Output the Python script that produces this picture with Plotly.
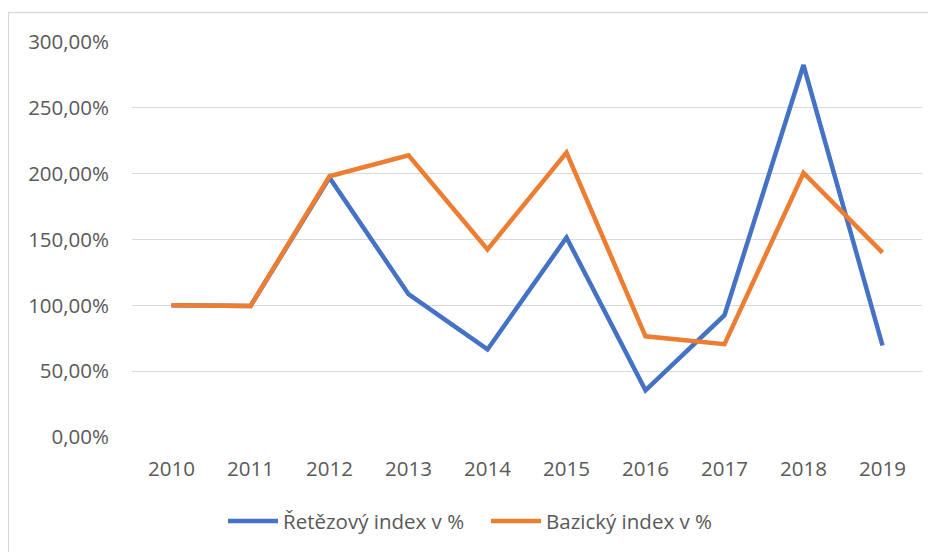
import plotly.graph_objects as go

years = ["2010", "2011", "2012", "2013", "2014", "2015", "2016", "2017", "2018", "2019"]
retezovy = [100.0, 99.5, 197.0, 108.5, 66.5, 151.5, 35.5, 92.5, 282.5, 69.5]
bazicky = [100.0, 99.5, 198.0, 214.0, 142.5, 216.0, 76.5, 70.5, 200.5, 140.0]
y_ticks = [0, 50, 100, 150, 200, 250, 300]
y_ticktext = ["0,00%", "50,00%", "100,00%", "150,00%", "200,00%", "250,00%", "300,00%"]
series_names = ["Řetězový index v %", "Bazický index v %"]
series_colors = ["#4472C4", "#ED7D31"]

FONT = "Open Sans"
TXT = "#595959"
FS = 20.5

fig = go.Figure()
for vals, name, col in zip([retezovy, bazicky], series_names, series_colors):
    fig.add_trace(go.Scatter(x=years, y=vals, mode="lines", name=name,
                             line=dict(color=col, width=4.5), showlegend=False))

# page body has an 8px margin, so the figure is drawn 8px right/down of the window origin
OFF = 8
W, H = 936 - OFF, 552 - OFF
L, T = 132 - OFF, 42 - OFF
R = W - (922 - OFF)
B = H - (437 - OFF)
pw, ph = W - L - R, H - T - B

def px(x):  # reference window x -> paper
    return (x - OFF - L) / pw

def py(y):  # reference window y -> paper
    return (T + ph - (y - OFF)) / ph

shapes = [dict(type="rect", xref="paper", yref="paper",
               x0=px(8.5), x1=px(960), y0=py(580), y1=py(12.5),
               line=dict(color="#d9d9d9", width=1.3), fillcolor="rgba(0,0,0,0)",
               layer="below")]
annotations = []
leg_y = 521
leg_items = [(228, 283), (491, 546)]
for (lx, tx), name, col in zip(leg_items, series_names, series_colors):
    shapes.append(dict(type="line", xref="paper", yref="paper",
                       x0=px(lx), x1=px(lx + 50), y0=py(leg_y), y1=py(leg_y),
                       line=dict(color=col, width=4.5)))
    annotations.append(dict(xref="paper", yref="paper", x=px(tx - 2), y=py(leg_y),
                            xanchor="left", yanchor="middle", text=name, showarrow=False,
                            font=dict(family=FONT, size=FS, color=TXT)))

fig.update_layout(
    width=W, height=H,
    margin=dict(l=L, r=R, t=T, b=B, pad=0, autoexpand=False),
    paper_bgcolor="white", plot_bgcolor="white",
    font=dict(family=FONT, size=FS, color=TXT),
    showlegend=False,
    xaxis=dict(type="category", range=[-0.5, len(years) - 0.5], automargin=False,
               showgrid=False, showline=False, zeroline=False,
               ticks="", ticklabelstandoff=17,
               tickfont=dict(family=FONT, size=FS, color=TXT)),
    yaxis=dict(range=[0, 300], tickvals=y_ticks, ticktext=y_ticktext, automargin=False,
               showgrid=True, gridcolor="#d9d9d9", gridwidth=1.3,
               zeroline=False, showline=False, ticks="", ticklabelstandoff=22,
               tickfont=dict(family=FONT, size=FS, color=TXT)),
    shapes=shapes,
    annotations=annotations,
)

fig.write_html("out.html")
